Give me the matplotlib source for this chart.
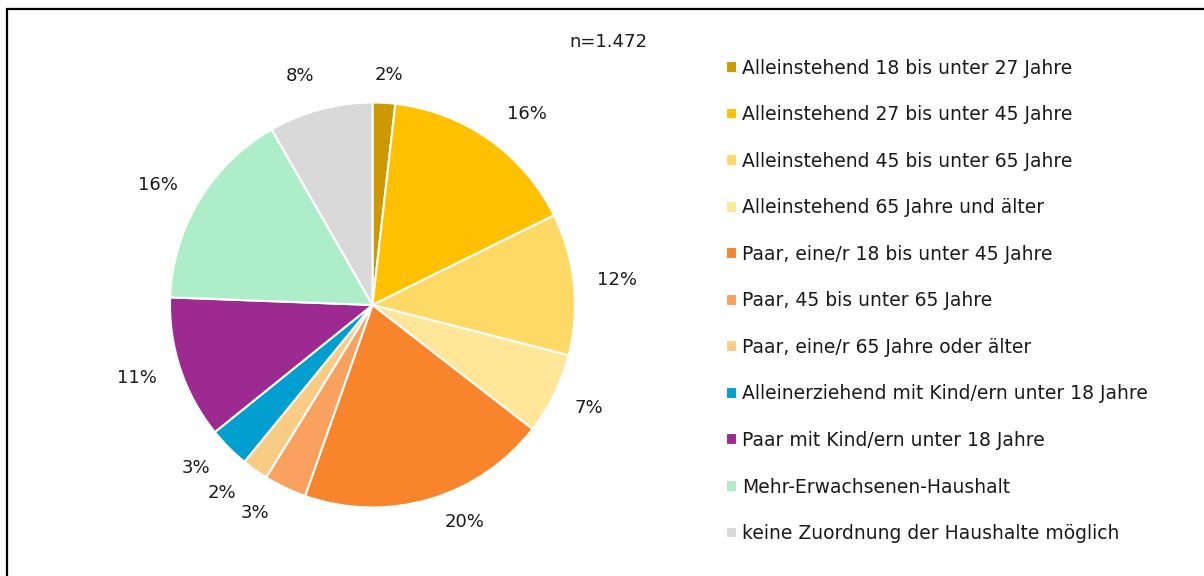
import matplotlib
matplotlib.use('Agg')
import matplotlib.pyplot as plt
from matplotlib.patches import Rectangle

plt.rcParams['font.family'] = ['DejaVu Sans']

# Haushaltstypen (Anteile, n=1.472)
kategorien = ['Alleinstehend 18 bis unter 27 Jahre',
              'Alleinstehend 27 bis unter 45 Jahre',
              'Alleinstehend 45 bis unter 65 Jahre',
              'Alleinstehend 65 Jahre und älter',
              'Paar, eine/r 18 bis unter 45 Jahre',
              'Paar, 45 bis unter 65 Jahre',
              'Paar, eine/r 65 Jahre oder älter',
              'Alleinerziehend mit Kind/ern unter 18 Jahre',
              'Paar mit Kind/ern unter 18 Jahre',
              'Mehr-Erwachsenen-Haushalt',
              'keine Zuordnung der Haushalte möglich']
anteile = [1.8, 15.9, 11.3, 6.5, 19.9, 3.4, 2.1, 3.3, 11.4, 16.1, 8.3]
beschriftung = ['2%', '16%', '12%', '7%', '20%', '3%', '2%', '3%', '11%', '16%', '8%']
farben = ['#CC9A00', '#FFC000', '#FFD966', '#FFE699', '#F8842B', '#FAA15F',
          '#F9CC85', '#009FCF', '#9C2A90', '#AEEDCA', '#D9D9D9']
# Lage der Prozentwerte (Radius = 1)
label_pos = [(0.081, 1.136), (0.763, 0.943), (1.207, 0.123), (1.069, -0.509),
             (0.457, -1.07), (-0.580, -1.027), (-0.743, -0.928), (-0.872, -0.805),
             (-1.163, -0.361), (-1.059, 0.593), (-0.358, 1.131)]

W, H = 1204, 576
fig = plt.figure(figsize=(W / 100, H / 100), dpi=100)

# Kreis: Mittelpunkt (372.5, 305) px, Radius 202.5 px
cx, cy, r = 372.5, 305, 202.5
ax = fig.add_axes([(cx - 300) / W, 0, 600 / W, 1])
ax.axis('off')

wedges, _ = ax.pie(anteile, colors=farben, startangle=90, counterclock=False,
                   radius=1, wedgeprops=dict(edgecolor='white', linewidth=1.5))
ax.set_xlim(-300 / r, 300 / r)
ax.set_ylim(-(H - cy) / r, cy / r)
ax.set_aspect('auto')

for txt, (x, y) in zip(beschriftung, label_pos):
    ax.text(x, y, txt, ha='center', va='center', fontsize=13, color='#1a1a1a')

fig.text(608 / W, 1 - 42 / H, 'n=1.472', ha='center', va='center', fontsize=13,
         color='#1a1a1a')

leg = fig.legend(wedges, kategorien, loc='upper left',
                 bbox_to_anchor=(726 / W, 1 - 58.5 / H), frameon=False,
                 fontsize=13.5, handlelength=0.6, handleheight=0.6,
                 handletextpad=0.25, labelspacing=1.47, borderpad=0,
                 borderaxespad=0)
for t in leg.get_texts():
    t.set_color('#1a1a1a')

# Rahmen
fig.patches.append(Rectangle((7 / W, -0.1), 1.2, 1 - 9 / H + 0.1,
                             transform=fig.transFigure, fill=False,
                             edgecolor='black', linewidth=1.6))

fig.savefig('out.png', dpi=100)
